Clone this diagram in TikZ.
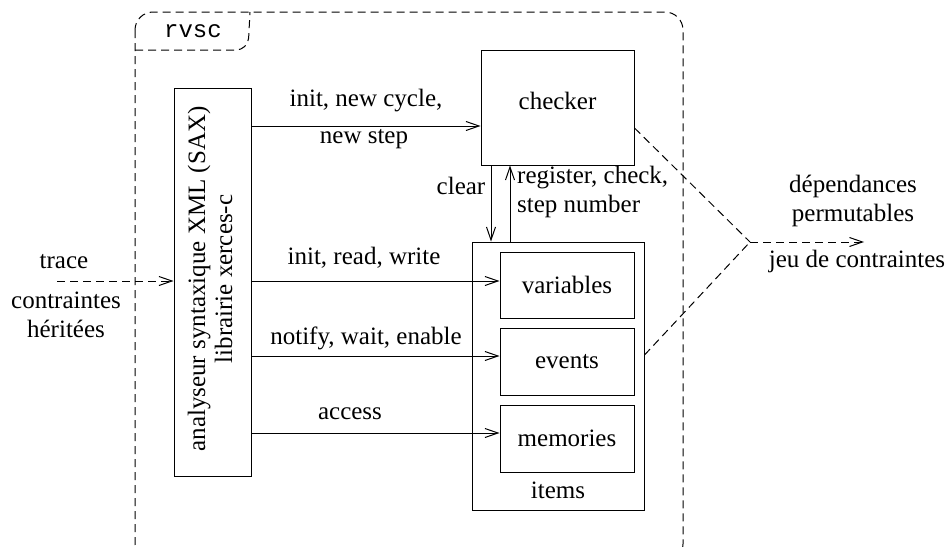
\documentclass[tikz,border=0pt]{standalone}
\usepackage{fontspec}
\setmainfont{Liberation Serif}
\newfontfamily\monof{Liberation Mono}
\usetikzlibrary{arrows.meta}
\tikzset{
  lbl/.style={font=\fontsize{25}{29}\selectfont, inner sep=0pt, align=center},
  boxn/.style={draw, line width=1pt, inner sep=0pt, font=\fontsize{25}{29}\selectfont, align=center},
  arr/.style={line width=1pt, -{Straight Barb[length=13pt,width=9pt,line width=1pt]}},
  dsh/.style={line width=1pt, dash pattern=on 8pt off 5pt},
  darr/.style={dsh, -{Straight Barb[length=13pt,width=9pt,line width=1pt]}}
}
\begin{document}
\begin{tikzpicture}[x=1pt,y=-1pt]
\useasboundingbox (0,0) rectangle (950,546);
\clip (0,0) rectangle (950,546);
% outer frame and tab
\draw[dsh, rounded corners=18pt] (135,12) rectangle (683,562);
\draw[dsh, rounded corners=12pt] (135,50) -- (248,50) -- (250,12);
\node[lbl, font=\monof\fontsize{24}{28}\selectfont] (rvsc) at (193,31) {rvsc};
% boxes
\node[boxn, minimum width=77pt, minimum height=388pt] (parser) at (212.5,282) {};
\node[lbl, rotate=90, font=\fontsize{25}{27}\selectfont] (ptext) at (210,279) {analyseur syntaxique XML (SAX)\\librairie xerces-c};
\node[boxn, minimum width=153pt, minimum height=115pt] (checker) at (557.5,107.5) {};
\node[lbl] (checkertxt) at (557.5,101) {checker};
\node[boxn, minimum width=172pt, minimum height=268pt] (items) at (558,376) {};
\node[lbl] (itemstxt) at (558,490) {items};
\node[boxn, minimum width=134pt, minimum height=66pt] (variables) at (567,285) {variables};
\node[boxn, minimum width=134pt, minimum height=67pt] (events) at (567,361.5) {events};
\node[boxn, minimum width=134pt, minimum height=67pt] (memories) at (567,438.5) {memories};
% helper coordinates
\coordinate (y1) at (0,126);
\coordinate (y2) at (0,281);
\coordinate (y3) at (0,356);
\coordinate (y4) at (0,433);
\coordinate (xc) at (491,0);
\coordinate (xr) at (510,0);
\coordinate (tin) at (57,281);
\coordinate (yk) at (0,128);
\coordinate (ye) at (0,355);
\coordinate (junc) at (750,242);
\coordinate (jend) at (864,242);
% arrows
\draw[arr] (parser.east |- y1) -- (checker.west |- y1);
\node[lbl] (l1a) at (366,101) {init, new cycle,};
\node[lbl] (l1b) at (364,139) {new step};
\draw[arr] (parser.east |- y2) -- (variables.west |- y2);
\node[lbl] (l2) at (364,258) {init, read, write};
\draw[arr] (parser.east |- y3) -- (events.west |- y3);
\node[lbl] (l3) at (366,338) {notify, wait, enable};
\draw[arr] (parser.east |- y4) -- (memories.west |- y4);
\node[lbl] (l4) at (350,414) {access};
\draw[arr] (checker.south -| xc) -- (items.north -| xc);
\node[lbl] (lclear) at (461,186) {clear};
\draw[arr] (items.north -| xr) -- (checker.south -| xr);
\node[lbl, anchor=west, align=left] (lreg) at (517,192) {register, check,\\step number};
% trace
\draw[darr] (tin) -- (parser.west |- tin);
\node[lbl] (ltrace) at (64,262) {trace};
\node[lbl] (lher) at (66,315) {contraintes\\héritées};
% right
\draw[dsh] (checker.east |- yk) -- (junc);
\draw[dsh] (items.east |- ye) -- (junc);
\draw[darr] (junc) -- (jend);
\node[lbl] (ldep) at (853,201) {dépendances\\permutables};
\node[lbl] (ljeu) at (857,261) {jeu de contraintes};
\end{tikzpicture}
\end{document}
